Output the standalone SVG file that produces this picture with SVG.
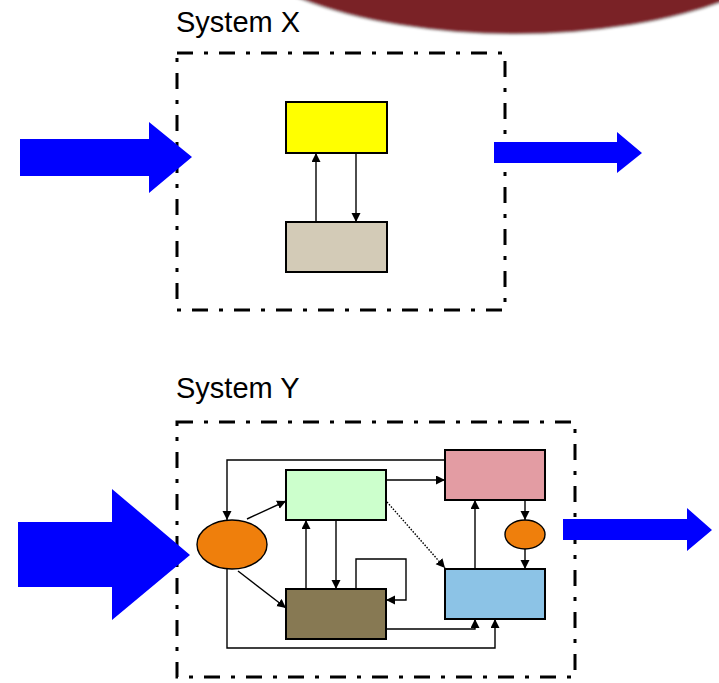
<svg xmlns="http://www.w3.org/2000/svg" width="719" height="683" viewBox="0 0 719 683">
  <defs>
    <style>
      .title { font-family: "Liberation Sans", Arial, sans-serif; font-size: 29px; fill: #000; }
      .frame { fill: none; stroke: #000; stroke-width: 3; stroke-dasharray: 16 11 4 11; }
      .box { stroke: #000; stroke-width: 2; }
      .oval { stroke: #000; stroke-width: 1.4; }
      .flow { fill: #0000ff; }
      .link { fill: none; stroke: #000; stroke-width: 1.4; marker-end: url(#head); }
      .dotted { stroke-dasharray: 1.5 1.5; }
    </style>
    <marker id="head" markerUnits="userSpaceOnUse" markerWidth="10" markerHeight="10" refX="9" refY="4.5" orient="auto">
      <path d="M0,0 L9,4.5 L0,9 Z" fill="#000"/>
    </marker>
    <filter id="soft" x="-10%" y="-10%" width="120%" height="130%">
      <feGaussianBlur stdDeviation="1"/>
    </filter>
  </defs>

  <!-- decorative banner at top -->
  <g id="banner">
    <ellipse cx="515" cy="-85" rx="304" ry="120" fill="#b9b0b0" filter="url(#soft)"/>
    <ellipse cx="515" cy="-87" rx="302" ry="120" fill="#7a2126" filter="url(#soft)"/>
  </g>

  <!-- System X -->
  <text class="title" x="176" y="32">System X</text>
  <g id="systemX">
    <rect class="frame" x="177" y="53" width="328" height="257"/>
  </g>
  <g id="inX">
    <polygon class="flow" points="20,139 149,139 149,122 192,157 149,193 149,176 20,176"/>
  </g>
  <g id="outX">
    <polygon class="flow" points="494,142 617,142 617,132 642,153 617,173 617,163 494,163"/>
  </g>
  <g id="x-yellow">
    <rect class="box" x="286" y="102" width="101" height="51" fill="#ffff00"/>
  </g>
  <g id="x-tan">
    <rect class="box" x="286" y="222" width="101" height="50" fill="#d3cbb7"/>
  </g>

  <!-- System Y -->
  <text class="title" x="176" y="398">System Y</text>
  <g id="systemY">
    <rect class="frame" x="177" y="422" width="398" height="255"/>
  </g>
  <g id="inY">
    <polygon class="flow" points="18,522 112,522 112,489 190,555 112,620 112,587 18,587"/>
  </g>
  <g id="outY">
    <polygon class="flow" points="563,519 687,519 687,508 712,530 687,551 687,540 563,540"/>
  </g>
  <g id="y-source">
    <ellipse class="oval" cx="232" cy="544.5" rx="35" ry="24.5" fill="#ef7f0c"/>
  </g>
  <g id="y-green">
    <rect class="box" x="286" y="470" width="100" height="50" fill="#ccffcc"/>
  </g>
  <g id="y-brown">
    <rect class="box" x="286" y="589" width="100" height="50" fill="#877953"/>
  </g>
  <g id="y-pink">
    <rect class="box" x="445" y="450" width="100" height="50" fill="#e39ca3"/>
  </g>
  <g id="y-blue">
    <rect class="box" x="445" y="569" width="100" height="50" fill="#8cc3e6"/>
  </g>
  <g id="y-small">
    <ellipse class="oval" cx="525" cy="534.5" rx="20" ry="14.5" fill="#ef7f0c"/>
  </g>

  <!-- connectors -->
  <g id="connectors">
    <!-- System X -->
    <line class="link" x1="316" y1="222" x2="316" y2="153"/>
    <line class="link" x1="356" y1="153" x2="356" y2="222"/>
    <!-- System Y -->
    <polyline class="link" points="445,460 227,460 227,520"/>
    <line class="link" x1="247" y1="519" x2="286" y2="501"/>
    <line class="link" x1="238" y1="571" x2="286" y2="608"/>
    <polyline class="link" points="227,569 227,648 495,648 495,619"/>
    <line class="link" x1="386" y1="480" x2="445" y2="480"/>
    <line class="link dotted" x1="387" y1="502" x2="445" y2="568"/>
    <line class="link" x1="336" y1="520" x2="336" y2="589"/>
    <line class="link" x1="306" y1="589" x2="306" y2="520"/>
    <polyline class="link" points="356,589 356,559 406,559 406,600 386,600"/>
    <polyline class="link" points="386,629 475,629 475,619"/>
    <line class="link" x1="475" y1="569" x2="475" y2="500"/>
    <line class="link" x1="525" y1="500" x2="525" y2="520"/>
    <line class="link" x1="525" y1="549" x2="525" y2="569"/>
  </g>
</svg>
